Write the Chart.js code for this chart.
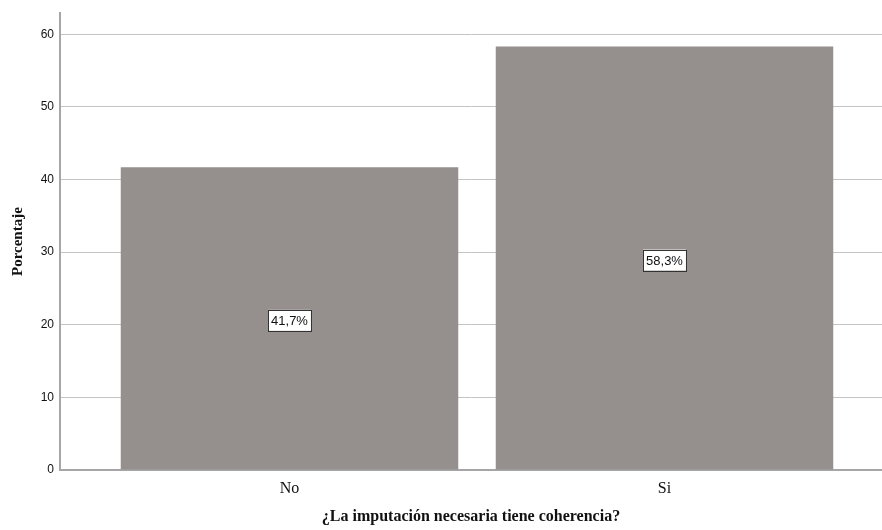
<!DOCTYPE html>
<html>
<head>
<meta charset="utf-8">
<script src="https://cdn.jsdelivr.net/npm/chart.js@4"></script>
<style>
  html, body { margin: 0; padding: 0; background: #fff; }
  #wrap { width: 882px; height: 530px; }
</style>
</head>
<body>
<div id="wrap"><canvas id="barChart"></canvas></div>
<script>
const categories = ['No', 'Si'];
const percentages = [41.7, 58.3];
const percentLabels = ['41,7%', '58,3%'];
const yTicks = [0, 10, 20, 30, 40, 50, 60];

// white boxed label in the middle of each bar
const boxLabels = {
    id: 'boxLabels',
    afterDatasetsDraw(chart) {
        const ctx = chart.ctx;
        const meta = chart.getDatasetMeta(0);
        ctx.save();
        ctx.font = '13px "Liberation Sans", Arial, sans-serif';
        ctx.textAlign = 'center';
        ctx.textBaseline = 'middle';
        meta.data.forEach((bar, i) => {
            const { x, y, base } = bar.getProps(['x', 'y', 'base'], true);
            const cy = (y + base) / 2 + 2;
            const txt = percentLabels[i];
            const w = ctx.measureText(txt).width + 6;
            const h = 21;
            ctx.fillStyle = '#fff';
            ctx.fillRect(x - w / 2, cy - h / 2, w, h);
            ctx.strokeStyle = '#333';
            ctx.lineWidth = 1;
            ctx.strokeRect(Math.round(x - w / 2) + 0.5, Math.round(cy - h / 2) + 0.5, Math.round(w), h);
            ctx.fillStyle = '#111';
            ctx.fillText(txt, x, cy + 1);
        });
        ctx.restore();
    }
};

const ctx = document.getElementById('barChart');
new Chart(ctx, {
    type: 'bar',
    data: {
        datasets: [{
            label: 'Porcentaje',
            data: categories.map((c, i) => ({ x: i, y: percentages[i] })),
            backgroundColor: '#958f8d',
            borderWidth: 0,
            barPercentage: 0.9,
            categoryPercentage: 1
        }]
    },
    options: {
        responsive: true,
        maintainAspectRatio: false,
        animation: false,
        layout: { padding: { left: 0, right: 0, top: 6, bottom: 0 } },
        plugins: {
            legend: { display: false },
            tooltip: { enabled: false }
        },
        scales: {
            x: {
                type: 'linear',
                min: -0.612,
                max: 1.58,
                offset: false,
                afterBuildTicks: (scale) => { scale.ticks = categories.map((c, i) => ({ value: i })); },
                afterFit: (scale) => { scale.height = 60; },
                grid: { display: false, drawTicks: false },
                border: { color: '#a6a6a6', width: 2 },
                ticks: {
                    autoSkip: false,
                    maxRotation: 0,
                    padding: 9,
                    color: '#111',
                    font: { family: '"Liberation Serif", "Times New Roman", serif', size: 16 },
                    callback: (v) => categories[v]
                },
                title: {
                    display: true,
                    text: '¿La imputación necesaria tiene coherencia?',
                    color: '#111',
                    font: { family: '"Liberation Serif", "Times New Roman", serif', size: 16, weight: 'bold' },
                    padding: { top: 0, bottom: 4 }
                }
            },
            y: {
                min: 0,
                max: 62.9,
                afterBuildTicks: (scale) => { scale.ticks = yTicks.map(v => ({ value: v })); },
                afterFit: (scale) => { scale.width = 60; },
                grid: { color: '#c4c4c4', lineWidth: 1, drawTicks: false },
                border: { color: '#a6a6a6', width: 2 },
                ticks: {
                    padding: 6,
                    color: '#111',
                    font: { family: '"Liberation Sans", Arial, sans-serif', size: 12 }
                },
                title: {
                    display: true,
                    text: 'Porcentaje',
                    color: '#111',
                    font: { family: '"Liberation Serif", "Times New Roman", serif', size: 15, weight: 'bold' },
                    padding: { top: 9, bottom: 0 }
                }
            }
        }
    },
    plugins: [boxLabels]
});
</script>
</body>
</html>
